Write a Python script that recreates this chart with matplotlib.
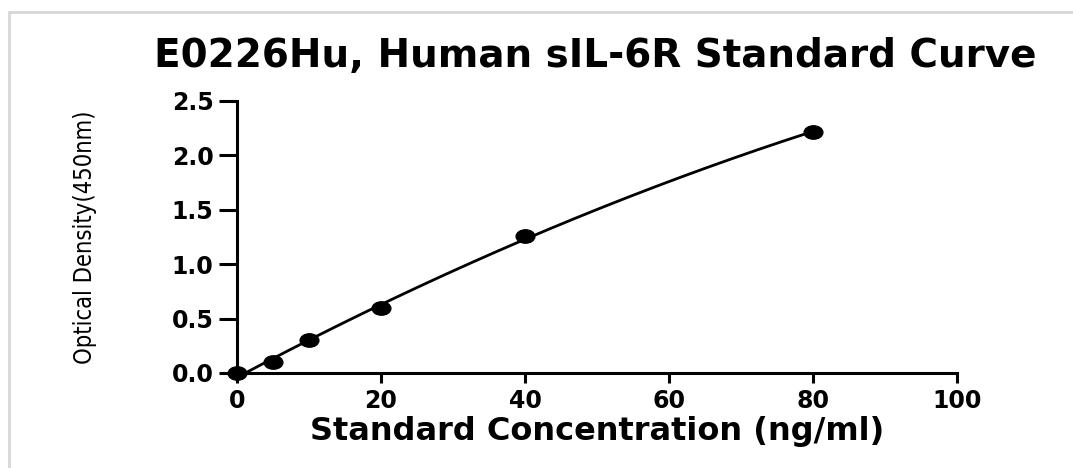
import numpy as np
import matplotlib
matplotlib.use("Agg")
import matplotlib.pyplot as plt
from matplotlib.path import Path
from matplotlib.transforms import Affine2D
from matplotlib.patches import Rectangle

# standard concentrations (ng/ml) and measured OD at 450 nm
conc = [0, 5, 10, 20, 40, 80]
od = [0.0, 0.10, 0.30, 0.60, 1.26, 2.215]

x_ticks = [0, 20, 40, 60, 80, 100]
y_ticks = [0.0, 0.5, 1.0, 1.5, 2.0, 2.5]

# quadratic fit through the standards
coef = np.polyfit(conc, od, 2)
xfit = np.linspace(min(conc), max(conc), 200)
yfit = np.polyval(coef, xfit)

# slightly flattened dot marker
oval = Path.unit_circle().transformed(Affine2D().scale(1.4, 1.0))

fig = plt.figure(figsize=(10.73, 4.68), dpi=100)

# card outline behind the plot
fig.patches.append(Rectangle((9 / 1073, -0.1), 1.2, 1 - 12 / 468 + 0.1,
                             transform=fig.transFigure, facecolor="white",
                             edgecolor="#d6d6d6", linewidth=2, zorder=-10))

ax = fig.add_axes([237 / 1073, 1 - 373 / 468, 720 / 1073, 272 / 468])
ax.set_zorder(5)
ax.patch.set_alpha(0)

ax.plot(xfit, yfit, color="black", linewidth=2.0, zorder=2, clip_on=False)
ax.plot(conc, od, linestyle="none", marker=oval, markersize=13.5,
        color="black", zorder=3, clip_on=False)

ax.set_xlim(0, 100)
ax.set_ylim(0, 2.5)
ax.set_xticks(x_ticks)
ax.set_yticks(y_ticks)
ax.set_xticklabels([str(v) for v in x_ticks])
ax.set_yticklabels([f"{v:.1f}" for v in y_ticks])

for s in ["top", "right"]:
    ax.spines[s].set_visible(False)
for s in ["left", "bottom"]:
    ax.spines[s].set_linewidth(2.2)

ax.tick_params(axis="x", width=2.2, length=7.5, labelsize=17, pad=4)
ax.tick_params(axis="y", width=2.2, length=13, labelsize=17, pad=4)
for lab in ax.get_xticklabels() + ax.get_yticklabels():
    lab.set_fontfamily("DejaVu Sans")
    lab.set_fontweight("bold")

ax.set_xlabel("Standard Concentration (ng/ml)", fontsize=23,
              fontweight="bold", family="DejaVu Sans", labelpad=2)
ax.set_ylabel("Optical Density(450nm)", fontsize=17,
              family="DejaVu Sans", fontstretch="condensed", labelpad=54)

fig.text(0.5545, 1 - 56 / 468, "E0226Hu, Human sIL-6R Standard Curve",
         ha="center", va="center", fontsize=28, fontweight="bold",
         family="DejaVu Sans")

fig.savefig("out.png", dpi=100)
